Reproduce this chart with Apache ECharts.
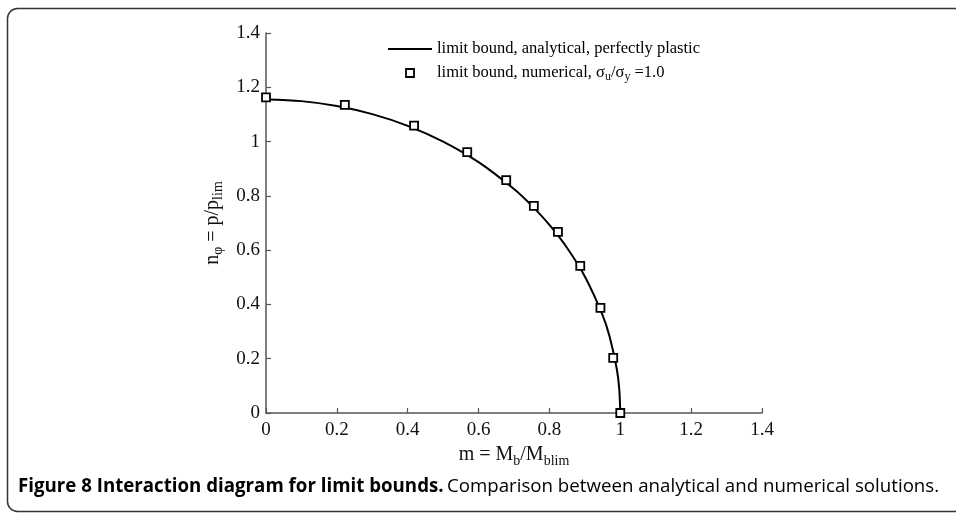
<!DOCTYPE html>
<html>
<head>
<meta charset="utf-8">
<script src="https://cdn.jsdelivr.net/npm/echarts@6/dist/echarts.min.js"></script>
<style>html,body{margin:0;padding:0;background:#fff;}#c{width:956px;height:516px;}</style>
</head>
<body>
<div id="c"></div>
<script>
// analytical curve: m values and n values
const lineM = [0, 0.1, 0.2, 0.3, 0.4, 0.5, 0.6, 0.7, 0.75, 0.8, 0.85, 0.9, 0.95, 0.97, 0.99, 0.997, 1.0];
const lineN = [1.155, 1.149, 1.131, 1.101, 1.058, 1.0, 0.924, 0.825, 0.764, 0.693, 0.608, 0.503, 0.361, 0.281, 0.163, 0.09, 0.0];
// numerical points
const ptM = [0, 0.2225, 0.418, 0.568, 0.678, 0.756, 0.824, 0.887, 0.944, 0.98, 1.0];
const ptN = [1.163, 1.135, 1.059, 0.961, 0.858, 0.763, 0.667, 0.542, 0.387, 0.203, 0.0];
const xTicks = [0, 0.2, 0.4, 0.6, 0.8, 1, 1.2, 1.4];
const yTicks = [0, 0.2, 0.4, 0.6, 0.8, 1, 1.2, 1.4];
const seriesNames = ['limit bound, analytical, perfectly plastic', 'limit bound, numerical'];

const serif = 'Liberation Serif';
const subStyle = { fontFamily: serif, fontSize: 14, verticalAlign: 'bottom', lineHeight: 14, color: '#111' };
const mainStyle = { fontFamily: serif, fontSize: 20, lineHeight: 26, color: '#111' };
const legSub = { fontFamily: serif, fontSize: 12, verticalAlign: 'bottom', lineHeight: 11, color: '#111' };

const chart = echarts.init(document.getElementById('c'));
const axisCommon = {
  type: 'value', min: 0, max: 1.4, interval: 0.2,
  axisLine: { show: true, lineStyle: { color: '#555', width: 1.5 } },
  axisTick: { show: true, inside: true, length: 5, lineStyle: { color: '#555', width: 1.2 } },
  splitLine: { show: false },
  axisLabel: { fontFamily: serif, fontSize: 19, color: '#111' },
  nameLocation: 'middle'
};
chart.setOption({
  animation: false,
  backgroundColor: '#fff',
  grid: { left: 266, right: 194, top: 33, bottom: 103, containLabel: false },
  xAxis: Object.assign({}, axisCommon, {
    axisLabel: Object.assign({}, axisCommon.axisLabel, { margin: 8 }),
    name: '{a|m = M}{s|b}{a|/M}{s|blim}',
    nameGap: 29,
    nameTextStyle: { rich: { a: mainStyle, s: subStyle } }
  }),
  yAxis: Object.assign({}, axisCommon, {
    axisLabel: Object.assign({}, axisCommon.axisLabel, { margin: 6 }),
    name: '{a|n}{s|\u03c6}{a| = p/p}{s|lim}',
    nameGap: 40,
    nameRotate: 90,
    nameTextStyle: { rich: { a: mainStyle, s: subStyle } }
  }),
  legend: {
    orient: 'vertical', left: 388, top: 39, padding: 0,
    itemWidth: 44, itemHeight: 8, itemGap: 4,
    symbolKeepAspect: true,
    data: [
      { name: seriesNames[0], icon: 'path://M0,0H44V2H0Z', itemStyle: { color: '#000' } },
      { name: seriesNames[1], icon: 'path://M0,0H10V10H0Z', itemStyle: { color: '#fff', borderColor: '#000', borderWidth: 1.8 } }
    ],
    formatter: function (n) {
      if (n === seriesNames[1]) return 'limit bound, numerical, \u03c3{s|u}/\u03c3{s|y} =1.0';
      return n;
    },
    textStyle: { fontFamily: serif, fontSize: 16.5, color: '#000', lineHeight: 20, rich: { s: legSub } }
  },
  series: [
    {
      name: seriesNames[0], type: 'line', smooth: 0.3, symbol: 'none',
      lineStyle: { color: '#000', width: 2 },
      itemStyle: { color: '#000' },
      data: lineM.map((m, i) => [m, lineN[i]]),
      z: 2
    },
    {
      name: seriesNames[1], type: 'scatter', symbol: 'rect', symbolSize: 8,
      itemStyle: { color: '#fff', borderColor: '#000', borderWidth: 1.8, opacity: 1 },
      data: ptM.map((m, i) => [m, ptN[i]]),
      z: 3
    }
  ],
  graphic: [
    {
      type: 'rect', shape: { x: 7.5, y: 8.5, width: 1100, height: 503, r: 10 },
      style: { fill: 'none', stroke: '#333', lineWidth: 1.5 }, silent: true
    },
    {
      type: 'text', left: 18, top: 477,
      style: {
        text: '{b|Figure 8 Interaction diagram for limit bounds.} {n|Comparison between analytical and numerical solutions.}',
        rich: {
          b: { fontFamily: 'Open Sans', fontWeight: 'bold', fontSize: 18.7, color: '#333' },
          n: { fontFamily: 'Open Sans', fontSize: 18.7, color: '#444' }
        }
      }
    }
  ]
});
</script>
</body>
</html>
